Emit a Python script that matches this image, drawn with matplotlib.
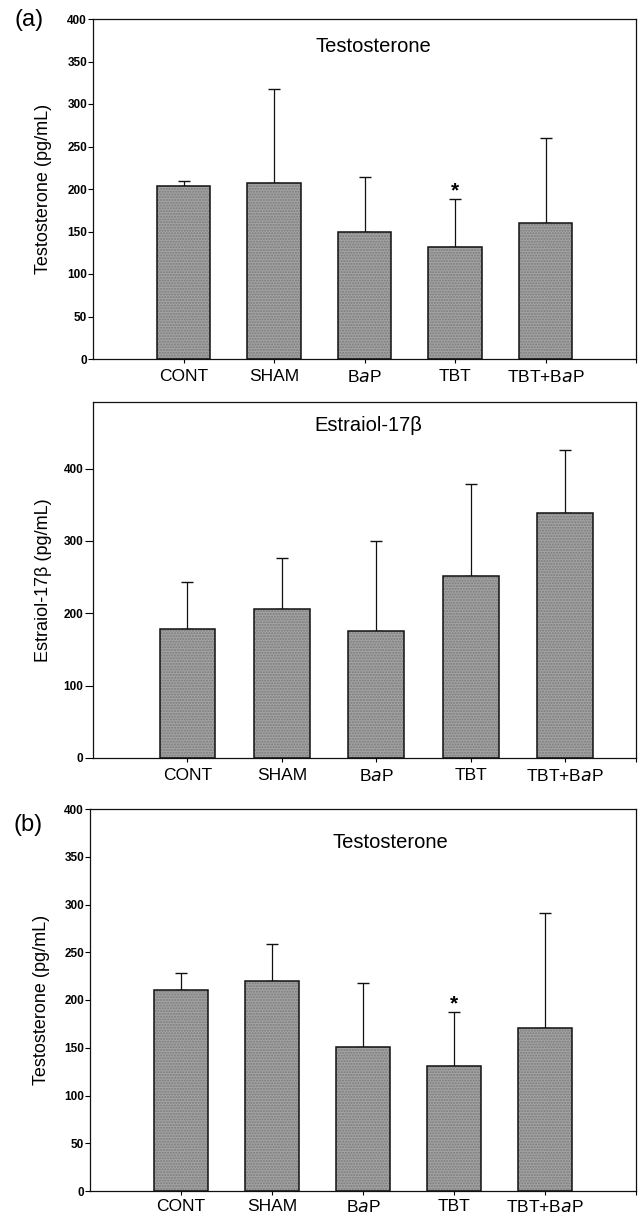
import matplotlib
matplotlib.use("Agg")
import matplotlib.pyplot as plt
import numpy as np

plt.rcParams['font.family'] = ['Liberation Sans', 'DejaVu Sans']

categories = ["CONT", "SHAM", "BaP", "TBT", "TBT+BaP"]
cat_labels = ["CONT", "SHAM", "B$\\it{a}$P", "TBT", "TBT+B$\\it{a}$P"]

# Panel (a) - Testosterone
testo_a_mean = [203, 207, 150, 132, 160]
testo_a_err_top = [210, 318, 214, 188, 260]
testo_a_sig = [False, False, False, True, False]

# Panel (a) - Estraiol-17beta
estra_mean = [178, 206, 176, 251, 338]
estra_err_top = [243, 277, 300, 378, 425]
estra_sig = [False, False, False, False, False]

# Panel (b) - Testosterone
testo_b_mean = [210, 220, 151, 131, 171]
testo_b_err_top = [228, 259, 218, 187, 291]
testo_b_sig = [False, False, False, True, False]

W, H = 642, 1220
fig = plt.figure(figsize=(W / 100, H / 100), dpi=100)

def px_axes(left, top, right, bottom):
    return fig.add_axes([left / W, 1 - bottom / H, (right - left) / W, (bottom - top) / H])

def draw_panel(ax, means, err_top, sig, title, ylabel, ylim, yticks, xlim,
               title_pos, ylabel_x, ytick_len, xpad):
    x = np.arange(1, len(means) + 1)
    means = np.array(means, dtype=float)
    err = np.array(err_top, dtype=float) - means
    ax.bar(x, means, width=0.59, color='#a3a3a3', edgecolor='#7a7a7a',
           hatch='......', linewidth=0, zorder=2)
    ax.bar(x, means, width=0.59, fill=False, edgecolor='#111111',
           linewidth=1.1, zorder=3)
    ax.errorbar(x, means, yerr=[np.zeros_like(err), err], fmt='none',
                ecolor='#111111', elinewidth=0.9, capsize=4, capthick=1.0,
                zorder=1)
    for xi, e, s in zip(x, err_top, sig):
        if s:
            ax.annotate('*', xy=(xi, e), xytext=(0, -1), textcoords='offset points',
                        ha='center', va='bottom', fontsize=15, fontweight='bold')
    ax.set_xlim(*xlim)
    ax.set_ylim(*ylim)
    ax.set_yticks(yticks)
    ax.set_yticklabels([str(t) for t in yticks], fontsize=8.5, fontweight='bold')
    ax.set_xticks(x)
    ax.set_xticklabels(cat_labels, fontsize=12.5)
    ax.set_xticks([xlim[1]], minor=True)
    ax.tick_params(axis='y', direction='out', length=ytick_len, width=0.8, pad=0.8)
    ax.tick_params(axis='x', which='both', direction='out', length=3, width=0.8, pad=xpad)
    for sp in ax.spines.values():
        sp.set_linewidth(0.9)
        sp.set_color('#111111')
    ax.text(title_pos[0], title_pos[1], title, transform=ax.transAxes,
            ha='center', va='center', fontsize=14.5)
    ax.set_ylabel(ylabel, fontsize=13)
    ax.yaxis.set_label_coords(ylabel_x, 0.5)

ax1 = px_axes(93, 19, 636, 359)
draw_panel(ax1, testo_a_mean, testo_a_err_top, testo_a_sig, "Testosterone",
           "Testosterone (pg/mL)", (0, 400), list(range(0, 401, 50)), (0, 6),
           (0.517, 0.92), -0.075, 3.5, 4)

ax2 = px_axes(93, 402, 636, 758)
draw_panel(ax2, estra_mean, estra_err_top, estra_sig, "Estraiol-17\u03b2",
           "Estraiol-17\u03b2 (pg/mL)", (0, 492), list(range(0, 401, 100)), (0, 5.75),
           (0.507, 0.934), -0.076, 6, 4)

ax3 = px_axes(90, 809, 636, 1191)
draw_panel(ax3, testo_b_mean, testo_b_err_top, testo_b_sig, "Testosterone",
           "Testosterone (pg/mL)", (0, 400), list(range(0, 401, 50)), (0, 6),
           (0.55, 0.912), -0.073, 3.5, 2.5)

fig.text(29 / W, 1 - 20 / H, "(a)", ha='center', va='center', fontsize=17)
fig.text(28 / W, 1 - 825 / H, "(b)", ha='center', va='center', fontsize=17)

fig.savefig("out.png", dpi=100)
